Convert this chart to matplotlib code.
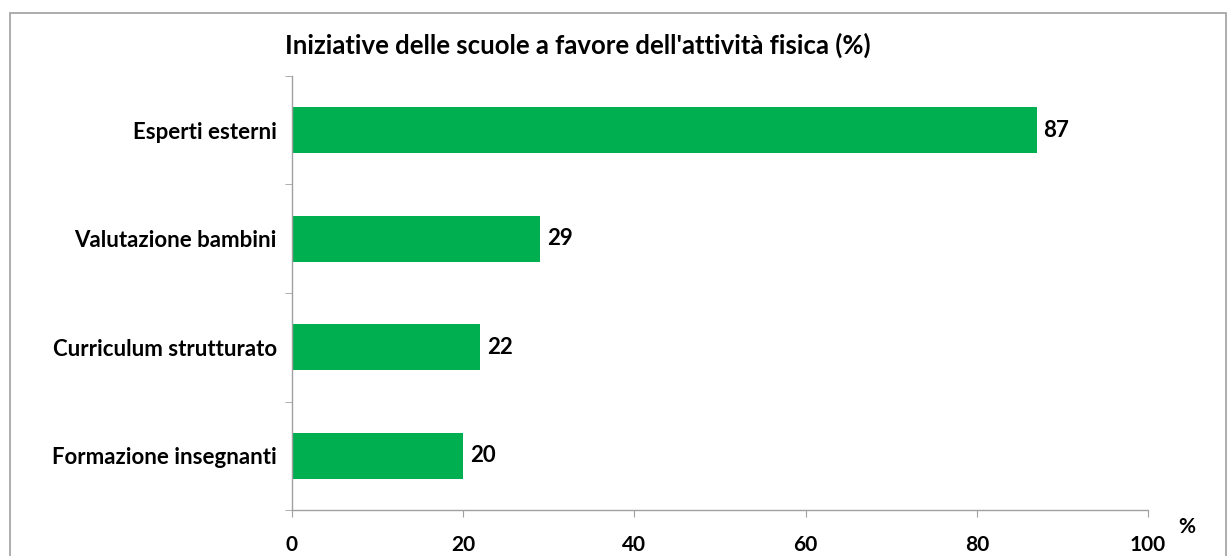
import matplotlib
matplotlib.use("Agg")
import matplotlib.pyplot as plt
from matplotlib.patches import Rectangle

categories = ["Esperti esterni", "Valutazione bambini", "Curriculum strutturato", "Formazione insegnanti"]
values = [87, 29, 22, 20]
xticks = [0, 20, 40, 60, 80, 100]
title = "Iniziative delle scuole a favore dell'attività fisica (%)"

plt.rcParams['font.family'] = ['Lato', 'DejaVu Sans']
W, H = 1227, 556
fig = plt.figure(figsize=(W/100, H/100), dpi=100)
ax = fig.add_axes([292/W, (H-510)/H, (1148-292)/W, (510-76)/H])

n = len(categories)
ypos = list(range(n))[::-1]
ax.barh(ypos, values, height=0.42, color="#00B050")
for y, v in zip(ypos, values):
    ax.text(v + 0.8, y, str(v), va="center", ha="left", fontsize=16, fontweight="bold", color="black")

ax.set_xlim(0, 100)
ax.set_ylim(-0.5, n - 0.5)
ax.set_xticks(xticks)
ax.set_xticklabels([str(t) for t in xticks], fontsize=15, fontweight="bold")
ax.set_yticks(ypos)
ax.set_yticklabels(categories, fontsize=16, fontweight="bold")
ax.set_yticks([i - 0.5 for i in range(n + 1)], minor=True)
ax.tick_params(axis="y", which="major", length=0, pad=11)
ax.tick_params(axis="y", which="minor", length=5, color="#A0A0A0", direction="out")
ax.tick_params(axis="x", length=5, color="#A0A0A0", direction="out", pad=13)
for s in ["top", "right"]:
    ax.spines[s].set_visible(False)
for s in ["left", "bottom"]:
    ax.spines[s].set_color("#A0A0A0")
    ax.spines[s].set_linewidth(1.0)

fig.text(578/W, 1 - 45/H, title, ha="center", va="center", fontsize=18.5, fontweight="bold")
fig.text(1187/W, 1 - 527/H, "%", ha="center", va="center", fontsize=15, fontweight="bold")

fig.patches.append(Rectangle((10/W, -0.1), (1226-10)/W, 1.1 - 13/H, transform=fig.transFigure,
                             fill=False, edgecolor="#A0A0A0", linewidth=1.2))
fig.savefig("out.png", dpi=100)
